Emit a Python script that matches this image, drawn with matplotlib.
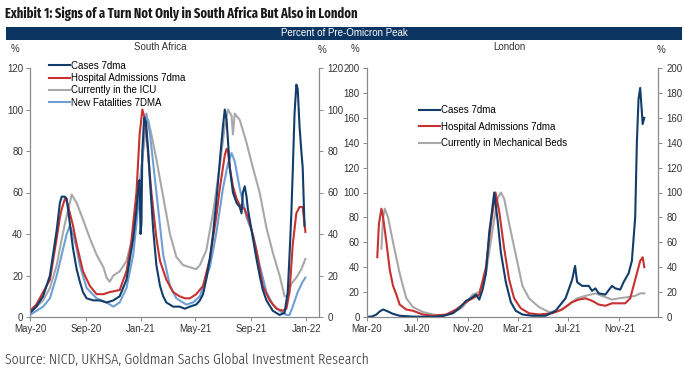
import matplotlib
matplotlib.use("Agg")
import matplotlib.pyplot as plt
import matplotlib.dates as mdates
from matplotlib import font_manager as fm
import pandas as pd

# ---- South Africa (percent of pre-Omicron peak) ----
sa_cases_dates = ["2020-05-01", "2020-05-15", "2020-05-30", "2020-06-14", "2020-06-29", "2020-07-06",
                  "2020-07-10", "2020-07-17", "2020-07-21", "2020-07-28", "2020-08-04", "2020-08-12",
                  "2020-08-19", "2020-08-26", "2020-09-03", "2020-09-18", "2020-10-02", "2020-10-17",
                  "2020-11-01", "2020-11-15", "2020-11-30", "2020-12-15", "2020-12-22", "2020-12-27",
                  "2020-12-29", "2020-12-31", "2021-01-02", "2021-01-04", "2021-01-08", "2021-01-12",
                  "2021-01-17", "2021-01-21", "2021-01-28", "2021-02-04", "2021-02-12", "2021-02-19",
                  "2021-02-26", "2021-03-13", "2021-03-27", "2021-04-08", "2021-04-19", "2021-05-03",
                  "2021-05-11", "2021-05-18", "2021-05-25", "2021-06-02", "2021-06-09", "2021-06-16",
                  "2021-06-24", "2021-07-01", "2021-07-05", "2021-07-09", "2021-07-12", "2021-07-16",
                  "2021-07-23", "2021-07-31", "2021-08-07", "2021-08-11", "2021-08-14", "2021-08-18",
                  "2021-08-22", "2021-08-25", "2021-09-02", "2021-09-05", "2021-09-13", "2021-09-20",
                  "2021-09-27", "2021-10-05", "2021-10-19", "2021-11-03", "2021-11-14", "2021-11-21",
                  "2021-11-25", "2021-11-29", "2021-12-02", "2021-12-06", "2021-12-10", "2021-12-13",
                  "2021-12-17", "2021-12-21", "2021-12-24", "2021-12-28"]
sa_cases = [2, 5, 10, 20, 42, 55,
            58, 58, 57, 45, 33, 23,
            17, 12, 9, 8, 8, 7,
            8, 10, 18, 38, 52, 65,
            66, 40, 45, 80, 96, 94,
            80, 65, 42, 25, 15, 10,
            7, 5, 5, 4, 5, 6,
            8, 11, 18, 28, 40, 55,
            75, 92, 100, 95, 85, 72,
            60, 55, 53, 50, 60, 63,
            58, 52, 42, 38, 28, 20,
            13, 8, 3, 1, 2, 12,
            30, 50, 70, 98, 112, 110,
            92, 80, 72, 44]

sa_hosp_dates = ["2020-05-01", "2020-05-15", "2020-05-30", "2020-06-14", "2020-06-29", "2020-07-06",
                 "2020-07-10", "2020-07-17", "2020-07-21", "2020-07-28", "2020-08-04", "2020-08-12",
                 "2020-08-26", "2020-09-10", "2020-09-25", "2020-10-10", "2020-10-24", "2020-11-15",
                 "2020-11-30", "2020-12-10", "2020-12-22", "2020-12-29", "2021-01-04", "2021-01-09",
                 "2021-01-13", "2021-01-24", "2021-02-04", "2021-02-12", "2021-02-26", "2021-03-13",
                 "2021-03-27", "2021-04-08", "2021-04-19", "2021-05-03", "2021-05-18", "2021-06-02",
                 "2021-06-16", "2021-06-24", "2021-07-05", "2021-07-09", "2021-07-12", "2021-07-16",
                 "2021-07-23", "2021-07-31", "2021-08-07", "2021-08-18", "2021-08-25", "2021-09-02",
                 "2021-09-13", "2021-09-27", "2021-10-12", "2021-10-27", "2021-11-10", "2021-11-18",
                 "2021-11-25", "2021-12-02", "2021-12-10", "2021-12-17", "2021-12-24", "2021-12-30"]
sa_hosp = [3, 6, 12, 18, 38, 48,
           52, 57, 56, 50, 44, 35,
           22, 15, 11, 11, 12, 13,
           22, 35, 60, 88, 100, 96,
           88, 60, 38, 27, 18, 12,
           10, 9, 9, 11, 15, 28,
           48, 62, 78, 81, 80, 72,
           63, 57, 54, 52, 48, 42,
           32, 15, 8, 4, 3, 4,
           12, 35, 50, 53, 53, 41]

sa_icu_dates = ["2020-05-01", "2020-05-30", "2020-06-14", "2020-06-29", "2020-07-06", "2020-07-17",
                "2020-07-28", "2020-08-01", "2020-08-12", "2020-08-26", "2020-09-10", "2020-09-25",
                "2020-10-10", "2020-10-17", "2020-10-24", "2020-11-01", "2020-11-15", "2020-11-30",
                "2020-12-15", "2020-12-26", "2021-01-06", "2021-01-13", "2021-01-17", "2021-01-24",
                "2021-02-04", "2021-02-19", "2021-03-06", "2021-03-20", "2021-04-04", "2021-04-19",
                "2021-05-03", "2021-05-11", "2021-05-25", "2021-06-09", "2021-06-24", "2021-07-05",
                "2021-07-12", "2021-07-20", "2021-07-23", "2021-07-27", "2021-08-07", "2021-08-22",
                "2021-09-05", "2021-09-20", "2021-10-05", "2021-10-19", "2021-11-03", "2021-11-14",
                "2021-11-21", "2021-11-29", "2021-12-10", "2021-12-21", "2021-12-30"]
sa_icu = [2, 8, 14, 25, 33, 45,
          55, 59, 55, 47, 38, 30,
          24, 19, 17, 20, 22, 27,
          40, 58, 80, 93, 95, 88,
          76, 58, 40, 29, 25, 24,
          23, 25, 32, 50, 73, 92,
          100, 97, 88, 98, 95, 84,
          72, 60, 43, 31, 20, 10,
          10, 16, 19, 23, 28]

sa_deaths_dates = ["2020-05-01", "2020-05-30", "2020-06-14", "2020-06-29", "2020-07-10", "2020-07-21",
                   "2020-07-28", "2020-08-04", "2020-08-12", "2020-08-19", "2020-09-03", "2020-09-25",
                   "2020-10-17", "2020-11-01", "2020-11-15", "2020-11-30", "2020-12-15", "2020-12-29",
                   "2021-01-09", "2021-01-13", "2021-01-21", "2021-02-04", "2021-02-19", "2021-03-06",
                   "2021-03-20", "2021-04-11", "2021-04-26", "2021-05-11", "2021-06-02", "2021-06-16",
                   "2021-07-01", "2021-07-12", "2021-07-20", "2021-07-27", "2021-08-07", "2021-08-22",
                   "2021-09-05", "2021-09-20", "2021-10-05", "2021-10-19", "2021-11-03", "2021-11-18",
                   "2021-11-25", "2021-12-02", "2021-12-13", "2021-12-24", "2021-12-30"]
sa_deaths = [1, 5, 9, 20, 30, 40,
             44, 40, 33, 25, 14, 9,
             7, 5, 7, 14, 30, 60,
             90, 98, 88, 60, 30, 15,
             9, 6, 7, 10, 24, 40,
             62, 74, 79, 75, 62, 48,
             40, 25, 12, 6, 3, 1,
             1, 5, 12, 17, 19]

# ---- London (percent of pre-Omicron peak) ----
ldn_cases_dates = ["2020-03-01", "2020-03-15", "2020-03-25", "2020-04-02", "2020-04-10", "2020-04-18",
                   "2020-05-04", "2020-05-20", "2020-06-21", "2020-08-08", "2020-09-01", "2020-09-25",
                   "2020-10-11", "2020-10-27", "2020-11-08", "2020-11-20", "2020-11-28", "2020-12-06",
                   "2020-12-14", "2020-12-22", "2020-12-26", "2021-01-03", "2021-01-11", "2021-01-19",
                   "2021-01-31", "2021-02-12", "2021-02-24", "2021-03-12", "2021-04-05", "2021-05-07",
                   "2021-05-31", "2021-06-24", "2021-07-10", "2021-07-17", "2021-07-22", "2021-08-03",
                   "2021-08-19", "2021-08-27", "2021-09-04", "2021-09-12", "2021-09-28", "2021-10-14",
                   "2021-10-22", "2021-11-03", "2021-11-11", "2021-11-23", "2021-12-01", "2021-12-09",
                   "2021-12-13", "2021-12-17", "2021-12-21", "2021-12-25", "2021-12-27", "2021-12-31"]
ldn_cases = [0, 0.5, 2, 4.5, 6, 5,
             2.5, 1, 0.3, 0.2, 0.8, 3,
             7, 13, 15, 18, 14, 22,
             35, 68, 78, 100, 78, 52,
             28, 12, 5, 2, 1, 1,
             5, 15, 30, 41, 28, 25,
             25, 21, 23, 19, 18, 25,
             23, 22, 28, 35, 45, 80,
             140, 175, 184, 165, 155, 160]

ldn_hosp_dates = ["2020-03-27", "2020-03-31", "2020-04-06", "2020-04-10", "2020-04-18", "2020-04-26",
                  "2020-05-04", "2020-05-12", "2020-05-20", "2020-06-05", "2020-06-21", "2020-07-15",
                  "2020-08-08", "2020-09-09", "2020-10-03", "2020-10-27", "2020-11-12", "2020-11-28",
                  "2020-12-14", "2020-12-26", "2021-01-06", "2021-01-15", "2021-01-27", "2021-02-08",
                  "2021-02-20", "2021-03-08", "2021-03-28", "2021-04-21", "2021-05-23", "2021-06-16",
                  "2021-07-10", "2021-07-26", "2021-08-11", "2021-08-27", "2021-09-12", "2021-09-28",
                  "2021-10-14", "2021-10-30", "2021-11-15", "2021-11-27", "2021-12-09", "2021-12-21",
                  "2021-12-27", "2021-12-31"]
ldn_hosp = [48, 75, 87, 80, 60, 38,
            25, 18, 10, 6, 5, 2,
            1, 2, 6, 12, 15, 18,
            40, 75, 100, 85, 55, 30,
            15, 7, 3, 2, 3, 6,
            12, 14, 15, 13, 10, 9,
            11, 11, 11, 15, 30, 45,
            48, 40]

ldn_beds_dates = ["2020-04-06", "2020-04-10", "2020-04-14", "2020-04-22", "2020-05-04", "2020-05-20",
                  "2020-06-05", "2020-06-21", "2020-07-15", "2020-08-08", "2020-09-01", "2020-09-25",
                  "2020-10-19", "2020-11-12", "2020-11-28", "2020-12-14", "2020-12-30", "2021-01-11",
                  "2021-01-19", "2021-01-27", "2021-02-08", "2021-02-24", "2021-03-12", "2021-03-28",
                  "2021-04-21", "2021-05-15", "2021-06-08", "2021-07-02", "2021-07-22", "2021-08-11",
                  "2021-09-04", "2021-09-28", "2021-10-14", "2021-10-30", "2021-11-23", "2021-12-09",
                  "2021-12-21", "2021-12-31"]
ldn_beds = [55, 80, 87, 80, 60, 35,
            15, 8, 4, 2, 1, 3,
            8, 18, 20, 35, 70, 95,
            100, 95, 75, 50, 25, 15,
            8, 4, 5, 10, 15, 17,
            19, 16, 14, 15, 16, 17,
            19, 19]

NAVY = "#123d6a"
RED = "#c8312f"
GREY = "#a8a8a8"
LBLUE = "#6f9fd6"
SPINE = "#8a8a8a"
TXT = "#333333"
LW = 1.5

plt.rcParams['font.family'] = ['Liberation Sans', 'DejaVu Sans']


def narrow_face(weights):
    """Find the most condensed installed sans face whose weight is in the given range."""
    best = None
    for f in fm.fontManager.ttflist:
        name = f.name.lower().replace(" ", "")
        path = f.fname.lower().replace("-", "").replace("_", "")
        if f.style != "normal":
            continue
        if "extracondensed" in name or "extracondensed" in path:
            squeeze = 2
        elif "semicondensed" in name or "semicondensed" in path:
            squeeze = 4
        elif "condensed" in name or "condensed" in path or "narrow" in name:
            squeeze = 3
        else:
            continue
        if "mono" in name or "serif" in name.replace("sansserif", ""):
            continue
        w = f.weight if isinstance(f.weight, int) else fm.weight_dict.get(f.weight, 400)
        if not (weights[0] <= w <= weights[1]):
            continue
        if best is None or squeeze < best[0]:
            best = (squeeze, f.fname)
    return best[1] if best else None


def fit_text(t, target_px, renderer):
    # scale the font so the line spans the same width as in the source picture
    w = t.get_window_extent(renderer).width
    t.set_fontsize(t.get_fontsize() * target_px / w)


fig = plt.figure(figsize=(6.84, 3.74), dpi=100)


def style_axes(ax, twin):
    ax.spines["top"].set_visible(False)
    twin.spines["top"].set_visible(False)
    for a in (ax, twin):
        for s in ("left", "right", "bottom"):
            a.spines[s].set_color(SPINE)
            a.spines[s].set_linewidth(0.8)
    ax.tick_params(axis="both", labelsize=7, colors=TXT, length=3, width=0.7, pad=2)
    twin.tick_params(axis="y", labelsize=7, colors=TXT, length=3, width=0.7, pad=3)
    for a in (ax, twin):
        a.tick_params(axis="both", color=SPINE)
    ax.patch.set_alpha(0)


leg_font = fm.FontProperties(family=["Liberation Sans", "DejaVu Sans"], size=7)

# --- left panel ---
ax1 = fig.add_axes([30 / 684, 1 - 317 / 374, 289 / 684, 249 / 374])
tw1 = ax1.twinx()
ax1.plot(pd.to_datetime(sa_cases_dates), sa_cases, color=NAVY, lw=LW, zorder=5, label="Cases 7dma")
ax1.plot(pd.to_datetime(sa_hosp_dates), sa_hosp, color=RED, lw=LW, zorder=4, label="Hospital Admissions 7dma")
ax1.plot(pd.to_datetime(sa_icu_dates), sa_icu, color=GREY, lw=LW, zorder=2, label="Currently in the ICU")
ax1.plot(pd.to_datetime(sa_deaths_dates), sa_deaths, color=LBLUE, lw=LW, zorder=3, label="New Fatalities 7DMA")
ax1.set_ylim(0, 120)
tw1.set_ylim(0, 120)
ax1.set_yticks(range(0, 121, 20))
tw1.set_yticks(range(0, 121, 20))
ax1.set_xlim(pd.Timestamp("2020-05-01"), pd.Timestamp("2022-01-29"))
ax1.xaxis.set_major_locator(mdates.MonthLocator(bymonth=[1, 5, 9]))
ax1.xaxis.set_major_formatter(mdates.DateFormatter("%b-%y"))
style_axes(ax1, tw1)
ax1.legend(loc="upper left", bbox_to_anchor=(0.065, 1.03), frameon=False, prop=leg_font,
           handlelength=2.2, handletextpad=0.1, labelspacing=0.25, borderpad=0, borderaxespad=0)

# --- right panel ---
ax2 = fig.add_axes([366.5 / 684, 1 - 317 / 374, 291.5 / 684, 249 / 374])
tw2 = ax2.twinx()
ax2.plot(pd.to_datetime(ldn_cases_dates), ldn_cases, color=NAVY, lw=LW, zorder=5, label="Cases 7dma")
ax2.plot(pd.to_datetime(ldn_hosp_dates), ldn_hosp, color=RED, lw=LW, zorder=4, label="Hospital Admissions 7dma")
ax2.plot(pd.to_datetime(ldn_beds_dates), ldn_beds, color=GREY, lw=LW, zorder=3, label="Currently in Mechanical Beds")
ax2.set_ylim(0, 200)
tw2.set_ylim(0, 200)
ax2.set_yticks(range(0, 201, 20))
tw2.set_yticks(range(0, 201, 20))
ax2.set_xlim(pd.Timestamp("2020-03-01"), pd.Timestamp("2022-02-02"))
ax2.xaxis.set_major_locator(mdates.MonthLocator(bymonth=[3, 7, 11]))
ax2.xaxis.set_major_formatter(mdates.DateFormatter("%b-%y"))
style_axes(ax2, tw2)
ax2.legend(loc="upper left", bbox_to_anchor=(0.18, 0.85), frameon=False, prop=leg_font,
           handlelength=2.2, handletextpad=0.1, labelspacing=0.65, borderpad=0, borderaxespad=0)

# --- header / footer ---
bold_file = narrow_face((600, 750))
reg_file = narrow_face((300, 450))
title_kw = dict(fontproperties=fm.FontProperties(fname=bold_file)) if bold_file else dict(weight="bold")
src_kw = dict(fontproperties=fm.FontProperties(fname=reg_file)) if reg_file else dict()

title = fig.text(5 / 684, 1 - 14 / 374, "Exhibit 1: Signs of a Turn Not Only in South Africa But Also in London",
                 color="#1a1a1a", va="center", ha="left", **title_kw)
title.set_fontsize(11)
fig.patches.append(plt.Rectangle((6 / 684, 1 - 40 / 374), 676 / 684, 13 / 374,
                                 transform=fig.transFigure, facecolor="#0b3461", edgecolor="none"))
fig.text(344 / 684, 1 - 33.5 / 374, "Percent of Pre-Omicron Peak", color="white", fontsize=7,
         ha="center", va="center")
fig.text(15 / 684, 1 - 49 / 374, "%", fontsize=7, color=TXT, ha="center", va="center")
fig.text(160 / 684, 1 - 47 / 374, "South Africa", fontsize=7, color=TXT, ha="center", va="center")
fig.text(322 / 684, 1 - 50 / 374, "%", fontsize=7, color=TXT, ha="center", va="center")
fig.text(355 / 684, 1 - 49 / 374, "%", fontsize=7, color=TXT, ha="center", va="center")
fig.text(509 / 684, 1 - 47 / 374, "London", fontsize=7, color=TXT, ha="center", va="center")
fig.text(661 / 684, 1 - 50 / 374, "%", fontsize=7, color=TXT, ha="center", va="center")
source = fig.text(5 / 684, 1 - 360 / 374, "Source: NICD, UKHSA, Goldman Sachs Global Investment Research",
                  color="#333333", va="center", ha="left", **src_kw)
source.set_fontsize(9.5)

rend = fig.canvas.get_renderer()
fit_text(title, 350, rend)
fit_text(source, 362, rend)

fig.savefig("out.png", dpi=100)
